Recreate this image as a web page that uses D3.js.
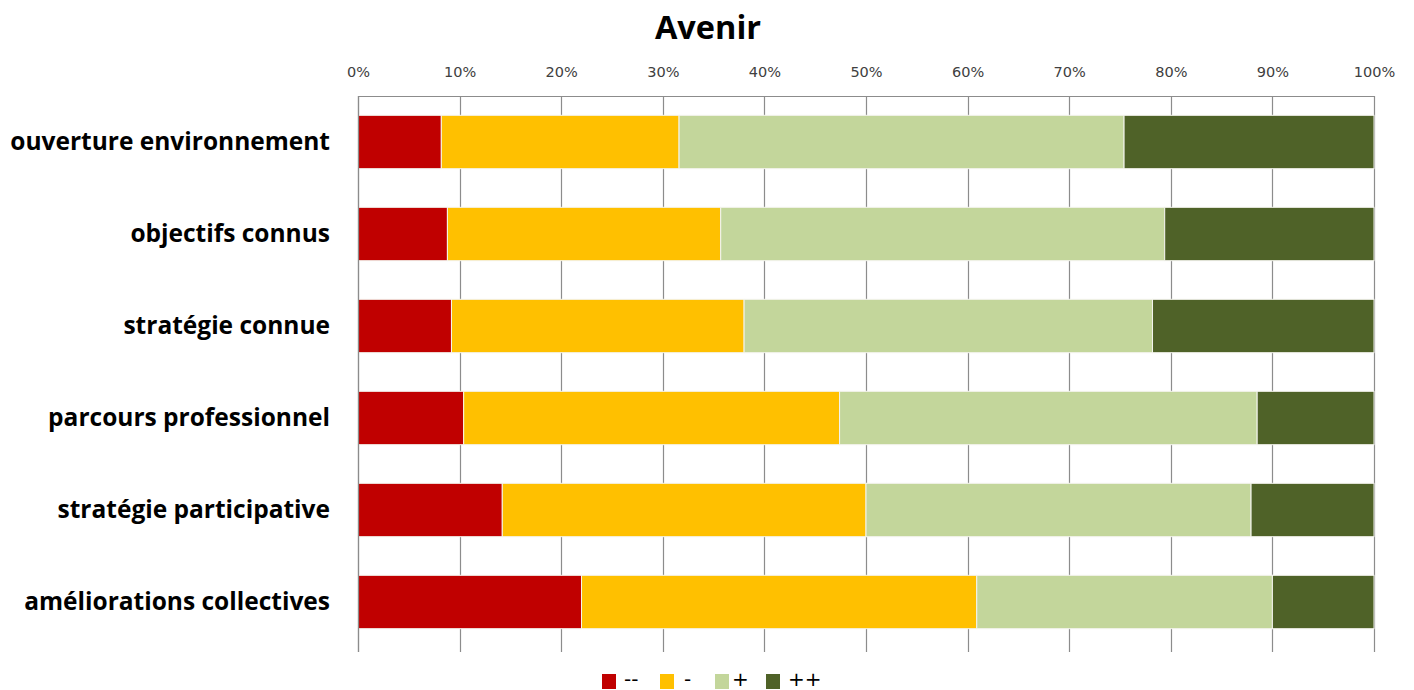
<!DOCTYPE html>
<html>
<head>
<meta charset="utf-8">
<script src="https://cdn.jsdelivr.net/npm/d3@7"></script>
<style>
  html, body { margin: 0; padding: 0; background: #ffffff; }
  svg { display: block; }
</style>
</head>
<body>
<svg id="chart" width="1414" height="690"></svg>
<script>
// Survey categories, top to bottom
const categories = [
  "ouverture environnement",
  "objectifs connus",
  "stratégie connue",
  "parcours professionnel",
  "stratégie participative",
  "améliorations collectives"
];

// Answer levels and their shares (%) per category
const levels = ["--", "-", "+", "++"];
const veryNegative = [8.2, 8.8, 9.2, 10.4, 14.2, 22.0];
const negative     = [23.4, 26.9, 28.8, 37.0, 35.8, 38.9];
const positive     = [43.8, 43.7, 40.2, 41.1, 37.9, 29.1];
const veryPositive = [24.6, 20.6, 21.8, 11.5, 12.1, 10.0];

const tickValues = [0, 0.1, 0.2, 0.3, 0.4, 0.5, 0.6, 0.7, 0.8, 0.9, 1];
const colors = ["#C00000", "#FFC000", "#C3D69B", "#4F6228"];

const rows = categories.map((c, i) => {
  const vals = [veryNegative[i], negative[i], positive[i], veryPositive[i]];
  const total = d3.sum(vals);
  const row = { category: c };
  levels.forEach((l, k) => row[l] = vals[k] / total);
  return row;
});

const svg = d3.select("#chart");
const margin = { top: 96, left: 358, right: 40, bottom: 42 };
const width = 1374 - margin.left;
const height = 648 - margin.top;

const x = d3.scaleLinear().domain([0, 1]).range([0, width]);
const y = d3.scaleBand().domain(categories).range([0, height]).paddingInner(0.42).paddingOuter(0.21);

const g = svg.append("g").attr("transform", `translate(${margin.left},${margin.top})`);

// Vertical gridlines
g.append("g")
  .selectAll("line")
  .data(tickValues)
  .join("line")
  .attr("x1", d => Math.round(x(d)) + 0.5)
  .attr("x2", d => Math.round(x(d)) + 0.5)
  .attr("y1", 0)
  .attr("y2", height + 4)
  .attr("stroke", "#8c8c8c")
  .attr("stroke-width", 1.2);

// Top value axis line
g.append("line")
  .attr("x1", 0).attr("x2", width)
  .attr("y1", 0.5).attr("y2", 0.5)
  .attr("stroke", "#8c8c8c")
  .attr("stroke-width", 1.2);

// Tick labels on top
const xAxis = d3.axisTop(x).tickValues(tickValues).tickFormat(d3.format(".0%")).tickSize(0).tickPadding(19);
const axG = g.append("g").call(xAxis);
axG.select(".domain").remove();
axG.selectAll("text")
  .style("font-family", "'DejaVu Sans', 'Open Sans', sans-serif")
  .style("font-size", "14.5px")
  .attr("fill", "#404040");

// Stacked bars
const stack = d3.stack().keys(levels);
const series = stack(rows);

g.append("g")
  .selectAll("g")
  .data(series)
  .join("g")
  .attr("fill", (d, i) => colors[i])
  .selectAll("rect")
  .data(d => d)
  .join("rect")
  .attr("x", d => x(d[0]))
  .attr("y", d => y(d.data.category))
  .attr("width", d => x(d[1]) - x(d[0]))
  .attr("height", y.bandwidth())
  .attr("stroke", "#f4f4ee")
  .attr("stroke-width", 1);

// Category labels
const yAxis = d3.axisLeft(y).tickSize(0).tickPadding(28);
const ayG = g.append("g").call(yAxis);
ayG.select(".domain").remove();
ayG.selectAll("text")
  .style("font-family", "'Open Sans', Lato, sans-serif")
  .style("font-size", "24.5px")
  .style("font-weight", "bold")
  .attr("fill", "#000");

// Left category axis line
g.append("line")
  .attr("x1", 0.5).attr("x2", 0.5)
  .attr("y1", 0).attr("y2", height + 4)
  .attr("stroke", "#8c8c8c")
  .attr("stroke-width", 1.2);

// Title
svg.append("text")
  .attr("x", 708)
  .attr("y", 39)
  .attr("text-anchor", "middle")
  .style("font-family", "'Open Sans', Lato, sans-serif")
  .style("font-size", "32.5px")
  .style("font-weight", "bold")
  .attr("fill", "#000")
  .text("Avenir");

// Legend
const legendRectX = [602, 660, 715, 766];
const legendTextX = [624, 684, 732, 788];
const legend = svg.append("g");
levels.forEach((l, i) => {
  legend.append("rect")
    .attr("x", legendRectX[i]).attr("y", 674)
    .attr("width", 14).attr("height", 15)
    .attr("fill", colors[i]);
  legend.append("text")
    .attr("x", legendTextX[i]).attr("y", 686)
    .style("font-family", "'DejaVu Sans', sans-serif")
    .style("font-size", "20px")
    .attr("fill", "#000")
    .text(l);
});
</script>
</body>
</html>
